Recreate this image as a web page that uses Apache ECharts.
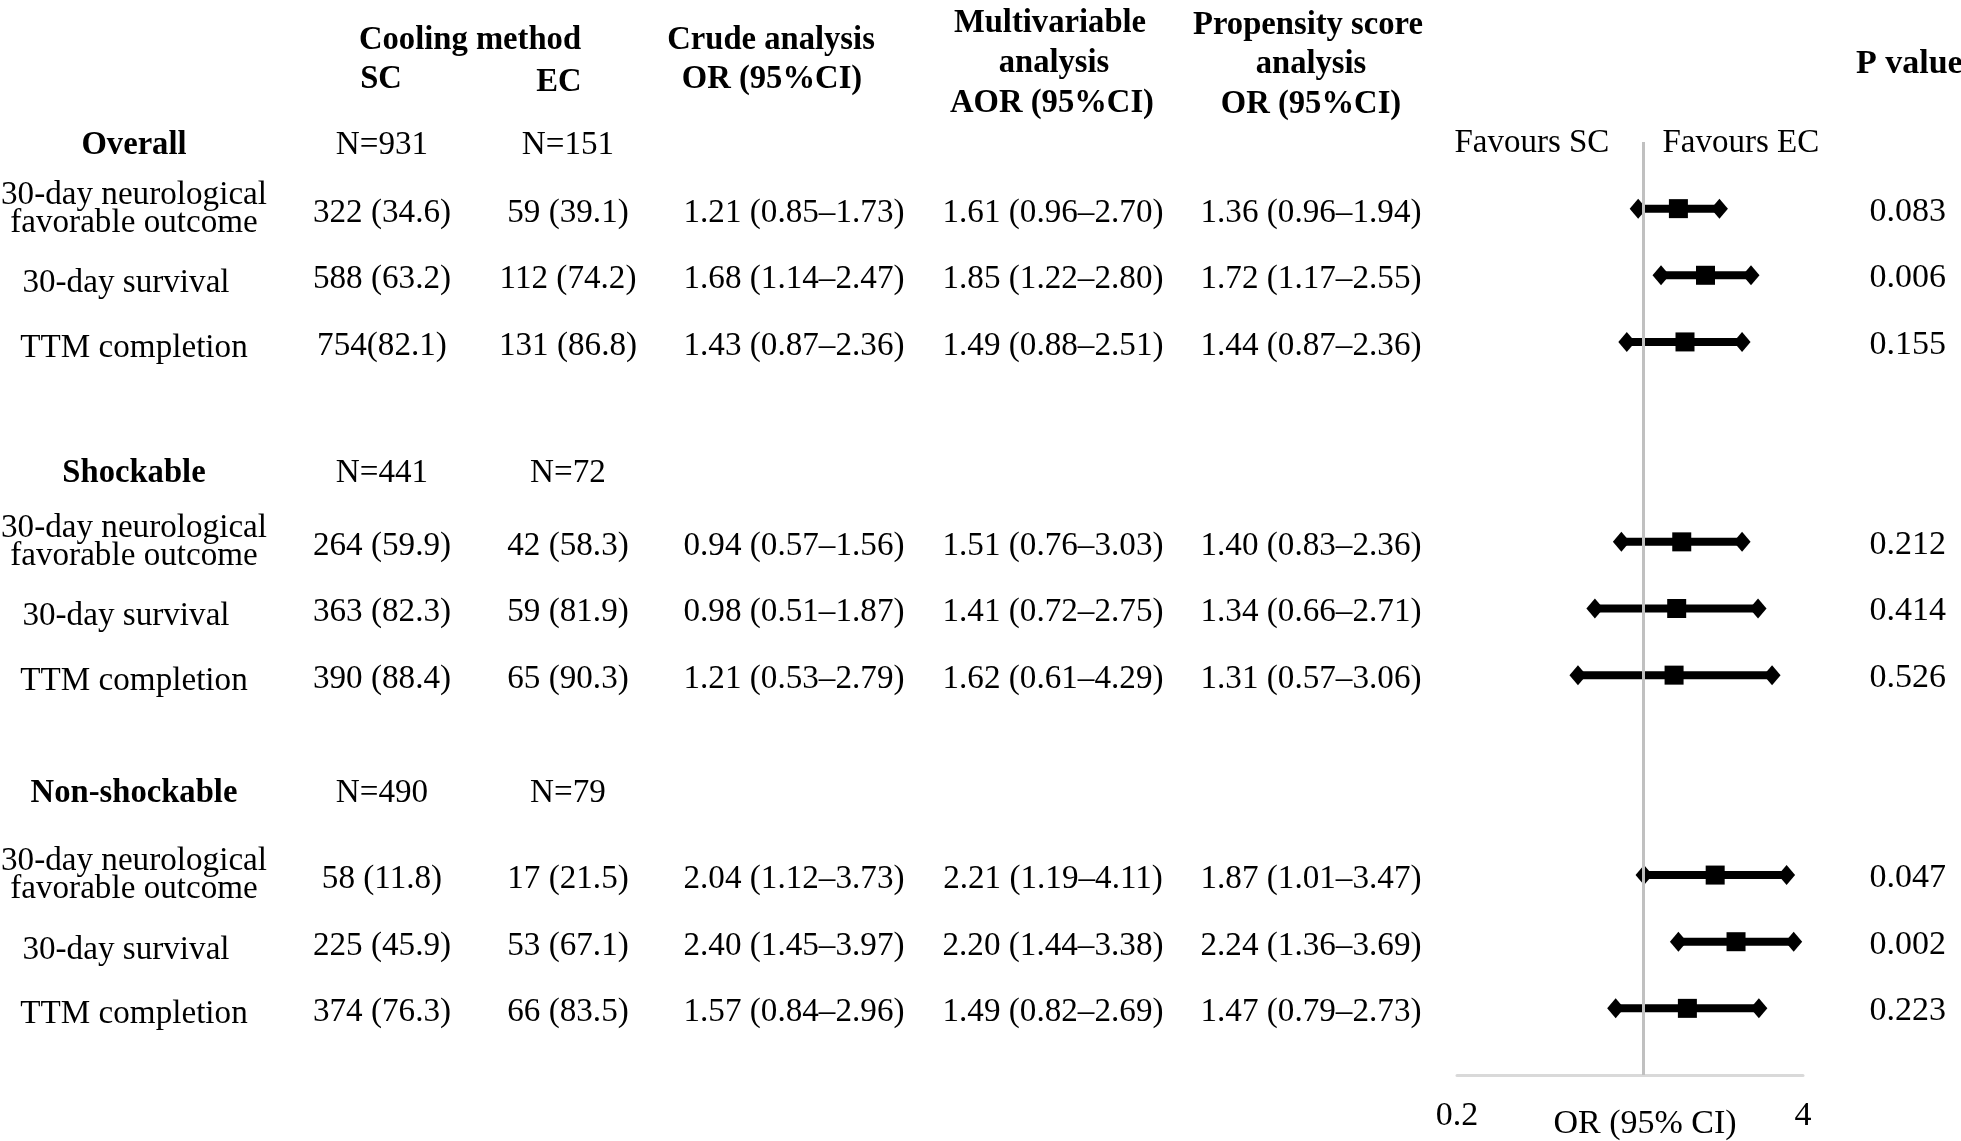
<!DOCTYPE html>
<html>
<head>
<meta charset="utf-8">
<script src="https://cdn.jsdelivr.net/npm/echarts@6/dist/echarts.min.js"></script>
<style>
html,body{margin:0;padding:0;background:#fff;}
#chart{width:1961px;height:1141px;}
</style>
</head>
<body>
<div id="chart"></div>
<script>
// ---------------- DATA ----------------
const groups = ['Overall', 'Shockable', 'Non-shockable'];
const groupN_SC = ['N=931', 'N=441', 'N=490'];
const groupN_EC = ['N=151', 'N=72', 'N=79'];
const outcomes = ['30-day neurological\nfavorable outcome', '30-day survival', 'TTM completion'];
const scValues = ['322 (34.6)', '588 (63.2)', '754(82.1)', '264 (59.9)', '363 (82.3)', '390 (88.4)', '58 (11.8)', '225 (45.9)', '374 (76.3)'];
const ecValues = ['59 (39.1)', '112 (74.2)', '131 (86.8)', '42 (58.3)', '59 (81.9)', '65 (90.3)', '17 (21.5)', '53 (67.1)', '66 (83.5)'];
const crudeOR = ['1.21 (0.85–1.73)', '1.68 (1.14–2.47)', '1.43 (0.87–2.36)', '0.94 (0.57–1.56)', '0.98 (0.51–1.87)', '1.21 (0.53–2.79)', '2.04 (1.12–3.73)', '2.40 (1.45–3.97)', '1.57 (0.84–2.96)'];
const multiAOR = ['1.61 (0.96–2.70)', '1.85 (1.22–2.80)', '1.49 (0.88–2.51)', '1.51 (0.76–3.03)', '1.41 (0.72–2.75)', '1.62 (0.61–4.29)', '2.21 (1.19–4.11)', '2.20 (1.44–3.38)', '1.49 (0.82–2.69)'];
const psOR   = [1.36, 1.72, 1.44, 1.40, 1.34, 1.31, 1.87, 2.24, 1.47];
const psLow  = [0.96, 1.17, 0.87, 0.83, 0.66, 0.57, 1.01, 1.36, 0.79];
const psHigh = [1.94, 2.55, 2.36, 2.36, 2.71, 3.06, 3.47, 3.69, 2.73];
const pValues = ['0.083', '0.006', '0.155', '0.212', '0.414', '0.526', '0.047', '0.002', '0.223'];
const rowIndex = [0, 1, 2, 5, 6, 7, 10, 11, 12];       // row slot of each outcome line
const groupRow = [-1, 3.93, 8.73];                      // row slot of each section header
const axisTickLabels = [0.2, 4];
const favours = ['Favours SC', 'Favours EC'];

// ---------------- LAYOUT ----------------
const FONT = '"Liberation Serif", "Times New Roman", serif';
const FS = 34;
const SX = 0.975;
const YSHIFT = 3;
const COL = { label: 134, sc: 382, ec: 568, crude: 794, multi: 1053, prop: 1311, pRight: 1946 };
const LABEL_DX = [0, -8, 0];
const LABEL_DY = [-3, 5, 3];

const chart = echarts.init(document.getElementById('chart'), null, { renderer: 'canvas' });

const ciData = rowIndex.map((r, i) => [psLow[i], psHigh[i], r]);
const endData = [];
rowIndex.forEach((r, i) => { endData.push([psLow[i], r]); endData.push([psHigh[i], r]); });
const orData = rowIndex.map((r, i) => [psOR[i], r]);

const option = {
  backgroundColor: '#ffffff',
  animation: false,
  grid: { left: 1457, top: 142, width: 346, height: 933, outerBoundsMode: 'none', containLabel: false },
  xAxis: {
    type: 'log', logBase: 10, min: 0.2, max: 4,
    axisLine: { show: true, onZero: false, lineStyle: { color: '#d9d9d9', width: 3 } },
    axisTick: { show: false },
    splitLine: { show: false },
    axisLabel: {
      show: true, showMinLabel: true, showMaxLabel: true, margin: 24,
      fontSize: 34, fontFamily: FONT, color: '#000',
      formatter: function (v) {
        for (const t of axisTickLabels) { if (Math.abs(v - t) / t < 1e-6) return String(t); }
        return '';
      }
    },
    name: 'OR (95% CI)', nameLocation: 'middle', nameGap: 32, nameMoveOverlap: false,
    nameTextStyle: { fontSize: 34, fontFamily: FONT, color: '#000', padding: [0, 0, 0, 30] }
  },
  yAxis: { type: 'value', min: -1, max: 13, inverse: true, show: false },
  series: [
    {
      type: 'scatter', data: [], z: 1, silent: true,
      markLine: {
        silent: true, symbol: ['none', 'none'], label: { show: false },
        lineStyle: { color: '#c0c0c0', width: 3, type: 'solid' },
        data: [{ xAxis: 1 }]
      }
    },
    {
      type: 'custom', z: 3, silent: true,
      data: ciData,
      encode: { x: [0, 1], y: 2 },
      renderItem: function (params, api) {
        const a = api.coord([api.value(0), api.value(2)]);
        const b = api.coord([api.value(1), api.value(2)]);
        return { type: 'line', shape: { x1: a[0], y1: a[1], x2: b[0], y2: b[1] }, style: { stroke: '#000', lineWidth: 8 } };
      }
    },
    {
      type: 'scatter', z: 4, silent: true, symbol: 'diamond', symbolSize: [17, 20],
      itemStyle: { color: '#000', opacity: 1 }, data: endData
    },
    {
      type: 'scatter', z: 5, silent: true, symbol: 'rect', symbolSize: 19,
      itemStyle: { color: '#000', opacity: 1 }, data: orData
    }
  ]
};
chart.setOption(option);

// ---------------- TEXT TABLE ----------------
function ypx(k) { return chart.convertToPixel({ gridIndex: 0 }, [1, k])[1]; }
const refX = chart.convertToPixel({ gridIndex: 0 }, [1, 0])[0];

function T(text, x, y, o) {
  o = o || {};
  const align = o.align || 'center';
  return {
    type: 'text', x: x, y: y + YSHIFT, scaleX: (o.sx || SX), silent: true, z: 10,
    style: {
      text: text,
      font: (o.bold ? 'bold ' : '') + (o.fs || FS) + 'px ' + FONT,
      fill: '#000',
      align: align, verticalAlign: 'middle',
      textAlign: align, textVerticalAlign: 'middle',
      lineHeight: o.lh || undefined
    }
  };
}

const g = [];
// Headers
g.push(T('Cooling method', 470, 37, { bold: true, sx: 0.96 }));
g.push(T('SC', 381, 76, { bold: true, sx: 0.96 }));
g.push(T('EC', 559, 79, { bold: true, sx: 0.96 }));
g.push(T('Crude analysis', 771, 37, { bold: true, sx: 0.96 }));
g.push(T('OR (95%CI)', 772, 76, { bold: true, sx: 0.96 }));
g.push(T('Multivariable', 1050, 20, { bold: true, sx: 0.96 }));
g.push(T('analysis', 1054, 60, { bold: true, sx: 0.96 }));
g.push(T('AOR (95%CI)', 1052, 100, { bold: true, sx: 0.96 }));
g.push(T('Propensity score', 1308, 22, { bold: true, sx: 0.96 }));
g.push(T('analysis', 1311, 61, { bold: true, sx: 0.96 }));
g.push(T('OR (95%CI)', 1311, 101, { bold: true, sx: 0.96 }));
g.push(T('P value', 1856, 61, { bold: true, align: 'left', sx: 1 }));
// Favours labels
const yFav = ypx(-1) - 2;
g.push(T(favours[0], refX - 111, yFav, { fs: 33, sx: 1 }));
g.push(T(favours[1], refX + 98, yFav, { fs: 33, sx: 1 }));

// Section headers
groups.forEach((name, gi) => {
  const y = ypx(groupRow[gi]) + 0;
  g.push(T(name, COL.label, y, { bold: true, sx: 0.96 }));
  g.push(T(groupN_SC[gi], COL.sc, y));
  g.push(T(groupN_EC[gi], COL.ec, y));
});

// Rows
rowIndex.forEach((r, i) => {
  const y = ypx(r);
  const k = i % 3;
  g.push(T(outcomes[k], COL.label + LABEL_DX[k], y + LABEL_DY[k], { lh: 28 }));
  g.push(T(scValues[i], COL.sc, y + 1));
  g.push(T(ecValues[i], COL.ec, y + 1));
  g.push(T(crudeOR[i], COL.crude, y + 1));
  g.push(T(multiAOR[i], COL.multi, y + 1));
  const ps = psOR[i].toFixed(2) + ' (' + psLow[i].toFixed(2) + '–' + psHigh[i].toFixed(2) + ')';
  g.push(T(ps, COL.prop, y + 1));
  g.push(T(pValues[i], COL.pRight, y, { align: 'right', sx: 1 }));
});

chart.setOption({ graphic: { elements: g } });
</script>
</body>
</html>
